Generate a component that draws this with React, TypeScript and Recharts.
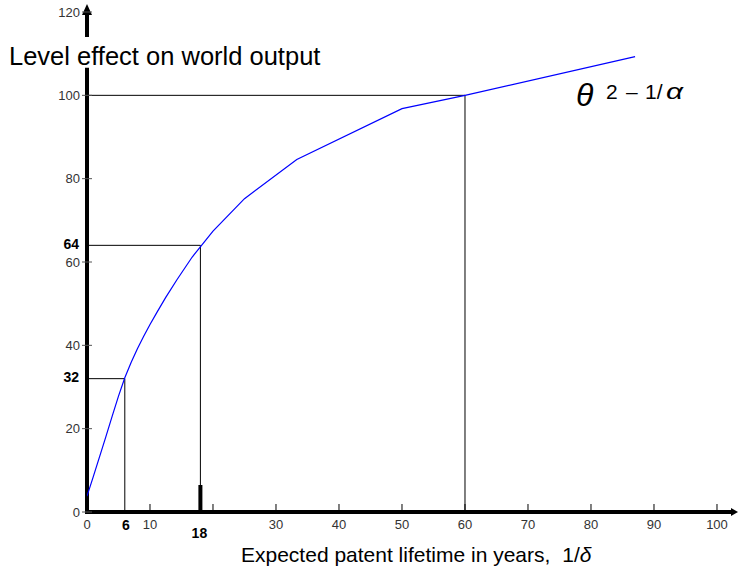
import React from 'react';
import { LineChart, Line, XAxis, YAxis, ReferenceLine, ReferenceDot } from 'recharts';

const lifetimes = [0, 1, 2, 3, 4, 5, 6, 7, 8, 9, 10, 11.1, 12.5, 14.3, 16.7, 20, 25, 33.3, 50, 60, 87];
const levels = [3.8, 8.5, 13.3, 18.1, 23.0, 27.8, 32.2, 35.9, 39.2, 42.2, 45.0, 47.9, 51.5, 55.8, 61.2, 67.4, 75.2, 84.6, 96.8, 100, 109.3];
const xTicks = [0, 6, 10, 18, 20, 30, 40, 50, 60, 70, 80, 90, 100];
const yTicks = [0, 20, 32, 40, 60, 64, 80, 100, 120];
const boldYTicks = [32, 64];
const markerX = [6, 18, 60];
const markerY = [32, 64, 100];

const data = lifetimes.map((x, i) => ({ x, y: levels[i] }));

const FONT = "'Liberation Sans', Arial, sans-serif";
const X_MAX = 102.54;

const XTick = (props: any) => {
  const { x, y, payload } = props;
  const v = payload.value;
  if (v === 6) {
    return (
      <text x={x + 1} y={y + 18} textAnchor="middle" fontSize={14} fontWeight="bold" fill="#000" fontFamily={FONT}>
        6
      </text>
    );
  }
  if (v === 18) {
    return (
      <g>
        <rect x={x - 2} y={y - 27} width={4} height={27} fill="#000" />
        <text x={x - 1} y={y + 26} textAnchor="middle" fontSize={14} fontWeight="bold" fill="#000" fontFamily={FONT}>
          18
        </text>
      </g>
    );
  }
  return (
    <g>
      {v !== 0 && <line x1={x} x2={x} y1={y - 8} y2={y} stroke="#000" strokeWidth={1} />}
      {v !== 20 && (
        <text x={x} y={y + 16.5} textAnchor="middle" fontSize={13} fill="#333" fontFamily={FONT}>
          {v}
        </text>
      )}
    </g>
  );
};

const YTick = (props: any) => {
  const { x, y, payload } = props;
  const v = payload.value;
  if (boldYTicks.includes(v)) {
    return (
      <text x={x - 8} y={y + 3.5} textAnchor="end" fontSize={14} fontWeight="bold" fill="#000" fontFamily={FONT}>
        {v}
      </text>
    );
  }
  return (
    <g>
      <line x1={x - 5} x2={x + 5} y1={y} y2={y} stroke="#555" strokeWidth={1} />
      <text x={x - 7} y={y + 4.5} textAnchor="end" fontSize={13} fill="#333" fontFamily={FONT}>
        {v}
      </text>
    </g>
  );
};

const YTitle = () => (
  <g>
    <text x={9} y={65} fontSize={25.5} fill="#000" fontFamily={FONT}>
      Level effect on world output
    </text>
    <text x={576} y={105.5} fontSize={32} fontStyle="italic" fill="#000" fontFamily={FONT}>
      θ
    </text>
    <text y={98.5} fontSize={21} fill="#000" fontFamily={FONT}>
      <tspan x={606}>2</tspan>
      <tspan x={626}>–</tspan>
      <tspan x={645}>1/</tspan>
    </text>
    <text x={666} y={98.5} fontSize={22} fontStyle="italic" fill="#000" fontFamily={FONT} textLength={17} lengthAdjust="spacingAndGlyphs">
      α
    </text>
  </g>
);

const XTitle = () => (
  <text x={241} y={562} fontSize={21} fill="#000" fontFamily={FONT}>
    Expected patent lifetime in years,
    <tspan dx={12}>1/</tspan>
    <tspan fontStyle="italic">δ</tspan>
  </text>
);

const upArrow = (p: any) => (
  <polygon points={`${p.cx},${p.cy - 8} ${p.cx - 5},${p.cy + 3} ${p.cx + 5},${p.cy + 3}`} fill="#000" />
);
const rightArrow = (p: any) => (
  <polygon points={`${p.cx + 5},${p.cy} ${p.cx - 2},${p.cy - 4} ${p.cx - 2},${p.cy + 4}`} fill="#000" />
);

export default function App() {
  return (
    <div style={{ position: 'absolute', left: 0, top: 0, background: '#fff' }}>
      <LineChart width={738} height={569} data={data} margin={{ top: 12, right: 5, bottom: 27, left: 27 }}>
        <XAxis
          type="number"
          dataKey="x"
          domain={[0, X_MAX]}
          ticks={xTicks}
          interval={0}
          allowDataOverflow
          tickSize={0}
          tickMargin={0}
          tickLine={false}
          tick={<XTick />}
          axisLine={{ stroke: '#000', strokeWidth: 4 }}
          height={30}
          label={() => <XTitle />}
        />
        <YAxis
          type="number"
          domain={[0, 120]}
          ticks={yTicks}
          interval={0}
          allowDataOverflow
          tickSize={0}
          tickMargin={0}
          tickLine={false}
          tick={<YTick />}
          axisLine={false}
          width={60}
          label={() => <YTitle />}
        />
        <ReferenceLine segment={[{ x: 0, y: -0.5 }, { x: 0, y: 106.6 }]} stroke="#000" strokeWidth={4} ifOverflow="visible" />
        <ReferenceLine segment={[{ x: 0, y: 114 }, { x: 0, y: 120 }]} stroke="#000" strokeWidth={4} ifOverflow="visible" />
        {markerX.map((mx, i) => (
          <ReferenceLine
            key={'h' + i}
            segment={[{ x: 0, y: markerY[i] }, { x: mx, y: markerY[i] }]}
            stroke="#000"
            strokeWidth={1}
            ifOverflow="visible"
          />
        ))}
        {markerX.map((mx, i) => (
          <ReferenceLine
            key={'v' + i}
            segment={[{ x: mx, y: 0 }, { x: mx, y: markerY[i] }]}
            stroke="#000"
            strokeWidth={1}
            ifOverflow="visible"
          />
        ))}
        <Line type="linear" dataKey="y" stroke="#0000ff" strokeWidth={1.2} dot={false} isAnimationActive={false} />
        <ReferenceDot x={0} y={120} r={0} ifOverflow="visible" shape={upArrow} />
        <ReferenceDot x={X_MAX} y={0} r={0} ifOverflow="visible" shape={rightArrow} />
      </LineChart>
    </div>
  );
}
